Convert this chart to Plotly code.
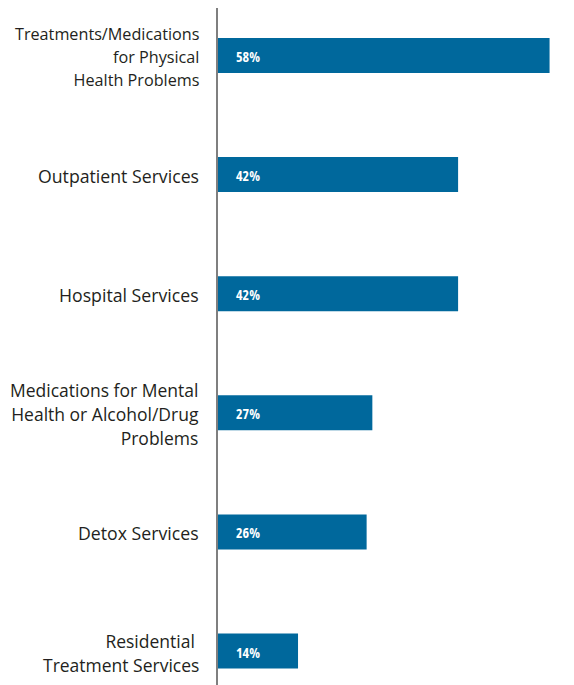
import plotly.graph_objects as go

# Category labels, one list of lines per bar (top to bottom)
category_lines = [
    ["Treatments/Medications", "for Physical", "Health Problems"],
    ["Outpatient Services"],
    ["Hospital Services"],
    ["Medications for Mental", "Health or Alcohol/Drug", "Problems"],
    ["Detox Services"],
    ["Residential ", "Treatment Services"],
]
values = [58, 42, 42, 27, 26, 14]
value_labels = ["58%", "42%", "42%", "27%", "26%", "14%"]

positions = list(range(len(category_lines)))

# glyph size and line pitch (px) for each label
label_sizes = [16.2, 17.7, 17.7, 17.5, 17.7, 17.5]
line_pitch = [23, 23, 23, 24, 23, 24]

fig = go.Figure(
    go.Bar(
        x=values,
        y=positions,
        orientation="h",
        width=0.294,
        marker=dict(color="#00689c", line=dict(width=0)),
        hoverinfo="skip",
    )
)

for pos, lab in zip(positions, value_labels):
    fig.add_annotation(
        x=0, y=pos, text=f"<span style='font-stretch:75%'>{lab}</span>",
        showarrow=False, xanchor="left", xshift=16, yshift=-1,
        font=dict(family="Open Sans, sans-serif", size=14, color="white", weight="bold"),
    )

for pos, lines, size, pitch in zip(positions, category_lines, label_sizes, line_pitch):
    # line spacing follows the annotation's base size (1.3 em); glyphs use the span size
    text = "<br>".join(f"<span style='font-size:{size}px'>{line}</span>" for line in lines)
    fig.add_annotation(
        xref="paper", x=0, y=pos, text=text, showarrow=False,
        xanchor="right", align="right", xshift=-17, yshift=-1.5,
        font=dict(family="Open Sans, sans-serif", size=pitch / 1.3, color="#231f20"),
    )

fig.update_layout(
    width=574, height=685,
    margin=dict(l=218, r=13, t=8, b=0),
    paper_bgcolor="white", plot_bgcolor="white",
    showlegend=False,
    xaxis=dict(range=[0, 60], visible=False, fixedrange=True),
    yaxis=dict(
        range=[5.285, -0.398],
        showticklabels=False, showgrid=False, zeroline=False,
        showline=True, linecolor="#7f7f7f", linewidth=2, ticks="",
    ),
)

fig.write_html("out.html")
